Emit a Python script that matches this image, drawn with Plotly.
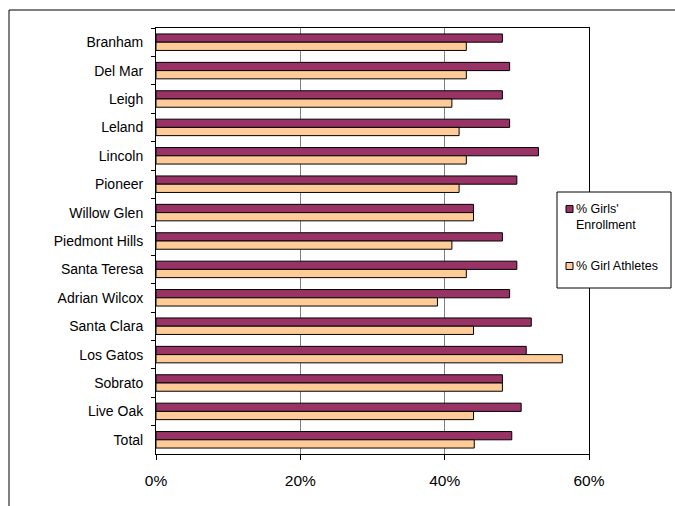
import plotly.graph_objects as go

schools = ["Branham", "Del Mar", "Leigh", "Leland", "Lincoln", "Pioneer", "Willow Glen",
           "Piedmont Hills", "Santa Teresa", "Adrian Wilcox", "Santa Clara", "Los Gatos",
           "Sobrato", "Live Oak", "Total"]
girls_enrollment = [0.48, 0.49, 0.48, 0.49, 0.53, 0.50, 0.44, 0.48, 0.50, 0.49, 0.52, 0.513, 0.48, 0.506, 0.493]
girl_athletes = [0.43, 0.43, 0.41, 0.42, 0.43, 0.42, 0.44, 0.41, 0.43, 0.39, 0.44, 0.563, 0.48, 0.44, 0.441]
series_names = ["% Girls'<br>Enrollment", "% Girl Athletes"]
series_colors = ["#993366", "#FFCC99"]

W, H = 675, 506
L, R, T, B = 156, 86, 28, 52
pw, ph = W - L - R, H - T - B

def px_to_paper_x(x):
    return (x - L) / pw

def px_to_paper_y(y):
    return (H - B - y) / ph

fig = go.Figure()
for vals, name, col in zip([girls_enrollment, girl_athletes], series_names, series_colors):
    fig.add_trace(go.Bar(y=schools, x=vals, orientation="h", name=name, showlegend=False,
                         marker=dict(color=col, line=dict(color="#000000", width=1))))

font = dict(family="Liberation Sans, Arial, sans-serif", size=14, color="#000000")

# custom legend (box, swatches, texts)
legend_shapes = [
    dict(type="rect", xref="paper", yref="paper",
         x0=px_to_paper_x(557), x1=px_to_paper_x(671),
         y0=px_to_paper_y(288), y1=px_to_paper_y(192),
         line=dict(color="#000000", width=1), fillcolor="white", layer="above"),
]
legend_annos = []
swatch_y = [209, 266]
text_y = [216.5, 266]
for i, (name, col) in enumerate(zip(series_names, series_colors)):
    legend_shapes.append(dict(type="rect", xref="paper", yref="paper",
                              x0=px_to_paper_x(566), x1=px_to_paper_x(573),
                              y0=px_to_paper_y(swatch_y[i] + 3.5), y1=px_to_paper_y(swatch_y[i] - 3.5),
                              line=dict(color="#000000", width=1), fillcolor=col, layer="above"))
    legend_annos.append(dict(xref="paper", yref="paper", x=px_to_paper_x(574), y=px_to_paper_y(text_y[i]),
                             xanchor="left", yanchor="middle", align="left", showarrow=False,
                             text=name, font=dict(size=12.5, color="#000000")))

fig.update_layout(
    width=W, height=H,
    margin=dict(l=L, r=R, t=T, b=B, autoexpand=False),
    paper_bgcolor="white", plot_bgcolor="white",
    barmode="group", bargap=0.42, bargroupgap=0,
    font=font,
    showlegend=False,
    xaxis=dict(range=[0, 0.6], dtick=0.2, tickformat=".0%", showgrid=True, gridcolor="#808080",
               gridwidth=1, showline=True, linecolor="#000000", linewidth=1, mirror=True,
               ticks="outside", ticklen=5, tickcolor="#000000", zeroline=False,
               tickfont=dict(size=15.5), ticklabelstandoff=7, automargin=False),
    yaxis=dict(autorange="reversed", showline=True, linecolor="#000000", linewidth=1, mirror=True,
               ticks="outside", ticklen=4, tickcolor="#000000", tickson="boundaries",
               showgrid=False, tickfont=dict(size=14), ticklabelstandoff=9, automargin=False),
    annotations=legend_annos,
    shapes=[
        dict(type="rect", xref="paper", yref="paper",
             x0=px_to_paper_x(9), x1=px_to_paper_x(720),
             y0=px_to_paper_y(560), y1=px_to_paper_y(10),
             line=dict(color="#000000", width=1), fillcolor="rgba(0,0,0,0)", layer="below"),
    ] + legend_shapes,
)

fig.write_html("out.html", post_script="document.body.style.margin='0';",
               config={"displayModeBar": False})
